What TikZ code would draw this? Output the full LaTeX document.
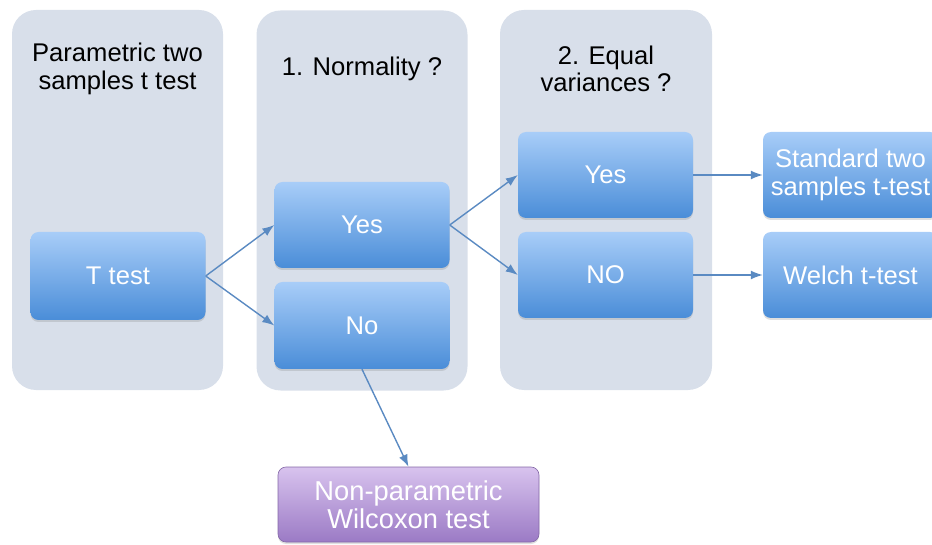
\documentclass[tikz,border=0pt]{standalone}
\usepackage{fontspec}
\setmainfont{Liberation Sans}
\usepackage{tikz}
\usetikzlibrary{shadows,arrows.meta}
\definecolor{panelgray}{HTML}{D8DFEA}
\definecolor{bluetop}{HTML}{A8CDF8}
\definecolor{bluebot}{HTML}{4A8DD8}
\definecolor{purptop}{HTML}{D8C3EE}
\definecolor{purpbot}{HTML}{9B7AC5}
\definecolor{arrowblue}{HTML}{5A8AC2}
\tikzstyle{panel}=[rectangle,rounded corners=24pt,fill=panelgray,
                   minimum width=211pt,minimum height=380pt,inner sep=0pt]
\tikzstyle{title}=[align=center,text=black,font=\fontsize{25.6}{27.5}\selectfont]
\tikzstyle{bluebox}=[rectangle,rounded corners=8pt,top color=bluetop,
                     bottom color=bluebot,text=white,align=center,
                     minimum width=175pt,minimum height=86pt,inner sep=0pt,
                     font=\fontsize{25.6}{27.5}\selectfont,
                     drop shadow={opacity=0.25,shadow xshift=0pt,shadow yshift=-2pt}]
\tikzstyle{purplebox}=[bluebox,top color=purptop,bottom color=purpbot,
                       draw=purpbot!85!black,line width=0.6pt,
                       minimum width=261pt,minimum height=75pt,
                       font=\fontsize{27.3}{28}\selectfont]
\tikzstyle{conn}=[draw=arrowblue,line width=1.4pt,
                  -{Latex[length=12pt,width=9pt]}]

\begin{document}
\begin{tikzpicture}[x=1pt,y=-1pt]
    \useasboundingbox (0,0) rectangle (932,545);
    \clip (0,0) rectangle (932,545);
    % columns
    \node (c1) at (117.5,200) [panel]{};
    \node (c2) at (362,200.5) [panel]{};
    \node (c3) at (606,200) [panel,minimum width=212pt]{};
    \node (h1) at (117.5,69) [title]{Parametric two\\samples t test};
    \node (h2) at (362,69) [title]{1. Normality ?};
    \node (h3) at (606,69) [title]{2. Equal\\variances ?};
    % boxes
    \node (tt) at (118,276) [bluebox,minimum height=88pt]{T test};
    \node (y1) at (362,225) [bluebox]{Yes};
    \node (n1) at (362,325.5) [bluebox,minimum height=87pt]{No};
    \node (y2) at (605.5,175) [bluebox]{Yes};
    \node (n2) at (605.5,275) [bluebox]{NO};
    \node (st) at (850.5,175) [bluebox]{Standard two\\samples t-test};
    \node (we) at (850.5,275) [bluebox]{Welch t-test};
    \node (wi) at (408.5,504.5) [purplebox]{Non-parametric\\Wilcoxon test};
    \draw[conn] (tt.east) -- (y1.west);
    \draw[conn] (tt.east) -- (n1.west);
    \draw[conn] (y1.east) -- (y2.west);
    \draw[conn] (y1.east) -- (n2.west);
    \draw[conn] (y2.east) -- (st.west);
    \draw[conn] (n2.east) -- (we.west);
    \draw[conn] (n1.south) -- (wi.north);
\end{tikzpicture}
\end{document}
